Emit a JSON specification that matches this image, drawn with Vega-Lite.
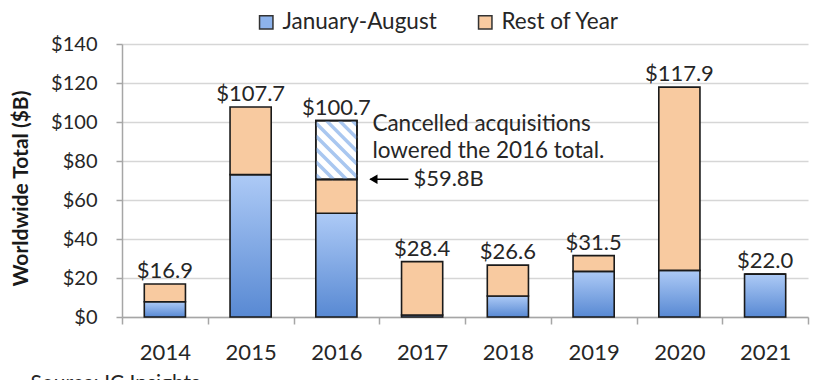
{
  "$schema": "https://vega.github.io/schema/vega-lite/v6.json",
  "width": 686,
  "height": 273,
  "autosize": "none",
  "padding": {"left": 122, "top": 44, "right": 9, "bottom": 63},
  "background": "white",
  "config": {
    "font": "Lato",
    "view": {"stroke": null},
    "axis": {
      "domainColor": "#a6a6a6",
      "domainWidth": 1.5,
      "tickColor": "#a6a6a6",
      "tickWidth": 1.5,
      "gridColor": "#d6d6d6",
      "gridWidth": 1.5,
      "labelColor": "#262626",
      "labelFont": "Lato",
      "titleFont": "Lato"
    },
    "axisY": {
      "labelOverlap": false,
      "tickCount": 10,
      "labelFontSize": 20,
      "tickSize": 6,
      "labelPadding": 19,
      "grid": true,
      "titleFontSize": 21,
      "titleFontWeight": "bold",
      "titleColor": "#1a1a1a",
      "titleX": -101,
      "titleY": 144,
      "titleBaseline": "middle",
      "titleAlign": "center",
      "titleAngle": -90
    }
  },
  "data": {
    "values": [
      {"year": "2014", "janaug": 7.8, "rest_top": 16.9, "total": 16.9},
      {"year": "2015", "janaug": 73.0, "rest_top": 107.7, "total": 107.7},
      {"year": "2016", "janaug": 53.2, "rest_top": 70.6, "total": 100.7},
      {"year": "2017", "janaug": 1.0, "rest_top": 28.4, "total": 28.4},
      {"year": "2018", "janaug": 10.8, "rest_top": 26.6, "total": 26.6},
      {"year": "2019", "janaug": 23.4, "rest_top": 31.5, "total": 31.5},
      {"year": "2020", "janaug": 23.9, "rest_top": 117.9, "total": 117.9},
      {"year": "2021", "janaug": 22.0, "rest_top": 22.0, "total": 22.0}
    ]
  },
  "encoding": {
    "x": {
      "field": "year",
      "type": "nominal",
      "sort": null,
      "scale": {"paddingInner": 0, "paddingOuter": 0},
      "axis": {
        "labelAngle": 0,
        "labelFontSize": 22,
        "labelBaseline": "alphabetic",
        "tickBand": "extent",
        "tickSize": 7,
        "labelPadding": 35,
        "title": "Source: IC Insights",
        "titleFontSize": 21,
        "titleFontWeight": "normal",
        "titleColor": "#262626",
        "titleAnchor": "start",
        "titleAlign": "left",
        "titleBaseline": "top",
        "titleX": -92,
        "titleY": 55
      }
    }
  },
  "layer": [
    {
      "mark": {
        "type": "bar",
        "width": {"band": 0.48},
        "stroke": "#1a1a1a",
        "strokeWidth": 1.6,
        "fill": {
          "gradient": "linear",
          "x1": 0, "y1": 0, "x2": 0, "y2": 1,
          "stops": [
            {"offset": 0, "color": "#adcaf6"},
            {"offset": 1, "color": "#5889d3"}
          ]
        }
      },
      "encoding": {
        "y": {
          "field": "janaug",
          "type": "quantitative",
          "stack": null,
          "scale": {"domain": [0, 140], "nice": false},
          "axis": {
            "values": [0, 20, 40, 60, 80, 100, 120, 140],
            "format": "$,.0f",
            "title": "Worldwide Total ($B)"
          }
        }
      }
    },
    {
      "mark": {"type": "bar", "width": {"band": 0.48}, "stroke": "#1a1a1a", "strokeWidth": 1.6},
      "encoding": {
        "y": {"field": "janaug", "type": "quantitative"},
        "y2": {"field": "rest_top"},
        "fill": {
          "datum": "Rest of Year",
          "type": "nominal",
          "scale": {
            "domain": ["January-August", "Rest of Year"],
            "range": ["#8db3ec", "#f8caa0"]
          },
          "legend": {
            "orient": "none",
            "legendX": 133,
            "legendY": -33,
            "direction": "horizontal",
            "title": null,
            "symbolType": "square",
            "symbolSize": 180,
            "symbolStrokeColor": "#333333",
            "symbolStrokeWidth": 1.5,
            "labelFontSize": 22.5,
            "labelColor": "#262626",
            "labelOffset": 5,
            "columnPadding": 37
          }
        }
      }
    },
    {
      "transform": [{"filter": "datum.year == '2016'"}],
      "mark": {"type": "bar", "width": {"band": 0.48}, "fill": "white", "stroke": "#1a1a1a", "strokeWidth": 1.6},
      "encoding": {
        "y": {"field": "rest_top", "type": "quantitative"},
        "y2": {"field": "total"}
      }
    },
    {
      "transform": [{"filter": "datum.year == '2016'"}],
      "mark": {
        "type": "point",
        "filled": false,
        "opacity": 1,
        "stroke": "#a9c7f0",
        "strokeWidth": 3.5,
        "size": 3446,
        "yOffset": 29.35,
        "shape": "M -0.7 0.84 L -0.54 1 M -0.7 0.4 L -0.1 1 M -0.7 -0.04 L 0.34 1 M -0.7 -0.48 L 0.7 0.92 M -0.7 -0.92 L 0.7 0.48 M -0.34 -1 L 0.7 0.04 M 0.1 -1 L 0.7 -0.4 M 0.54 -1 L 0.7 -0.84"
      },
      "encoding": {
        "y": {"field": "total", "type": "quantitative"}
      }
    },
    {
      "transform": [{"filter": "datum.year == '2016'"}],
      "mark": {"type": "bar", "width": {"band": 0.48}, "fillOpacity": 0, "stroke": "#1a1a1a", "strokeWidth": 1.6},
      "encoding": {
        "y": {"field": "rest_top", "type": "quantitative"},
        "y2": {"field": "total"}
      }
    },
    {
      "mark": {"type": "text", "baseline": "alphabetic", "dy": -6, "fontSize": 22, "color": "#262626"},
      "encoding": {
        "y": {"field": "total", "type": "quantitative"},
        "text": {"field": "total", "type": "quantitative", "format": "$.1f"}
      }
    },
    {
      "transform": [{"filter": "datum.year == '2016'"}],
      "mark": {"type": "rule", "color": "black", "strokeWidth": 1.5, "xOffset": 34, "x2Offset": 72},
      "encoding": {
        "x2": {"field": "year"},
        "y": {"field": "rest_top", "type": "quantitative"}
      }
    },
    {
      "transform": [{"filter": "datum.year == '2016'"}],
      "mark": {"type": "point", "shape": "triangle-left", "filled": true, "color": "black", "opacity": 1, "size": 90, "xOffset": 37},
      "encoding": {
        "y": {"field": "rest_top", "type": "quantitative"}
      }
    },
    {
      "transform": [{"filter": "datum.year == '2016'"}],
      "mark": {"type": "text", "text": "$59.8B", "align": "left", "baseline": "middle", "dx": 77, "fontSize": 22, "color": "#262626"},
      "encoding": {
        "y": {"field": "rest_top", "type": "quantitative"}
      }
    },
    {
      "transform": [{"filter": "datum.year == '2016'"}],
      "mark": {
        "type": "text",
        "text": ["Cancelled acquisitions", "lowered the 2016 total."],
        "align": "left",
        "baseline": "alphabetic",
        "dx": 36,
        "dy": 10,
        "lineHeight": 27,
        "fontSize": 22.5,
        "color": "#262626"
      },
      "encoding": {
        "y": {"field": "total", "type": "quantitative"}
      }
    }
  ]
}
